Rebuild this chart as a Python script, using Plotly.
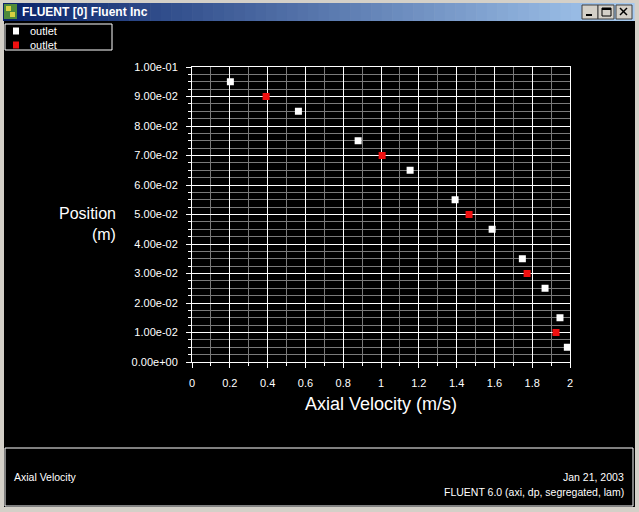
import plotly.graph_objects as go

# data
white_velocity = [0.203, 0.563, 0.879, 1.154, 1.392, 1.588, 1.748, 1.868, 1.947, 1.986]
white_position = [0.095, 0.085, 0.075, 0.065, 0.055, 0.045, 0.035, 0.025, 0.015, 0.005]
red_velocity = [0.392, 1.006, 1.466, 1.773, 1.926]
red_position = [0.09, 0.07, 0.05, 0.03, 0.01]

x_tick_vals = [0, 0.2, 0.4, 0.6, 0.8, 1.0, 1.2, 1.4, 1.6, 1.8, 2.0]
x_tick_text = ['0', '0.2', '0.4', '0.6', '0.8', '1', '1.2', '1.4', '1.6', '1.8', '2']
y_tick_vals = [0, 0.01, 0.02, 0.03, 0.04, 0.05, 0.06, 0.07, 0.08, 0.09, 0.1]
y_tick_text = ['0.00e+00', '1.00e-02', '2.00e-02', '3.00e-02', '4.00e-02', '5.00e-02',
               '6.00e-02', '7.00e-02', '8.00e-02', '9.00e-02', '1.00e-01']

legend_names = ['outlet', 'outlet']
window_title = 'FLUENT [0] Fluent Inc'
footer_left = 'Axial Velocity'
footer_date = 'Jan 21, 2003'
footer_version = 'FLUENT 6.0 (axi, dp, segregated, lam)'

W, H = 639, 512
FONT = 'Liberation Sans'
RED = '#F01010'


def px(x):
    return x / W


def py(y):
    return 1 - y / H


def rect(x0, y0, x1, y1, fill=None, line=None, lw=1, layer='below'):
    return dict(type='rect', xref='paper', yref='paper',
                x0=px(x0), x1=px(x1), y0=py(y0), y1=py(y1),
                fillcolor=fill if fill else 'rgba(0,0,0,0)',
                line=dict(color=line if line else 'rgba(0,0,0,0)', width=lw if line else 0),
                layer=layer)


def seg(x0, y0, x1, y1, color='black', lw=1):
    return dict(type='line', xref='paper', yref='paper',
                x0=px(x0), x1=px(x1), y0=py(y0), y1=py(y1),
                line=dict(color=color, width=lw), layer='above')


fig = go.Figure()

fig.add_trace(go.Scatter(x=white_velocity, y=white_position, mode='markers',
                         name=legend_names[0],
                         marker=dict(symbol='square', size=7, color='white', line=dict(width=0))))
fig.add_trace(go.Scatter(x=red_velocity, y=red_position, mode='markers',
                         name=legend_names[1],
                         marker=dict(symbol='square', size=7, color=RED, line=dict(width=0))))

shapes = []
# window frame
shapes.append(rect(4, 21, 635, 507, fill='black'))
# title bar gradient
n = 60
c0, c1 = (10, 36, 106), (166, 202, 240)
for i in range(n):
    t = i / (n - 1)
    col = 'rgb(%d,%d,%d)' % tuple(int(a + (b - a) * t) for a, b in zip(c0, c1))
    x0 = 3 + (634 - 3) * i / n
    x1 = 3 + (634 - 3) * (i + 1) / n + 0.6
    shapes.append(rect(x0, 3, x1, 21, fill=col))
# icon
shapes.append(rect(4, 4, 17, 19, fill='#4f8a3a'))
shapes.append(rect(6, 6, 11, 11, fill='#d8d040'))
shapes.append(rect(10, 12, 15, 17, fill='#d8d040'))
# title buttons
for bx in (582, 598, 616):
    shapes.append(rect(bx, 5, bx + 16, 19, fill='#D4D0C8', line='#404040', lw=1, layer='above'))
shapes.append(seg(586, 15, 592, 15, lw=2))
shapes.append(rect(602, 8, 611, 16, line='black', lw=1, layer='above'))
shapes.append(seg(602, 9, 611, 9, lw=2))
shapes.append(seg(620, 8, 627, 15, lw=1.5))
shapes.append(seg(620, 15, 627, 8, lw=1.5))
# legend box and markers
shapes.append(rect(5, 24, 112, 50, line='white', lw=1, layer='above'))
shapes.append(rect(13, 27.5, 19, 34.5, fill='white', layer='above'))
shapes.append(rect(13, 41.5, 19, 48.5, fill=RED, layer='above'))
# footer box
shapes.append(rect(5, 448, 633, 506, line='white', lw=1, layer='above'))

annotations = [
    dict(text='<b>' + window_title + '</b>', x=px(20), y=py(12), xanchor='left', yanchor='middle',
         font=dict(family=FONT, size=12, color='white')),
    dict(text='<br>'.join(legend_names), x=px(28), y=py(38), xanchor='left', yanchor='middle',
         align='left', font=dict(family=FONT, size=11, color='white')),
    dict(text='Axial Velocity (m/s)', x=px(381), y=py(404), xanchor='center', yanchor='middle',
         font=dict(family=FONT, size=18, color='white')),
    dict(text='Position<br>(m)', x=px(118), y=py(223.5), xanchor='right', yanchor='middle',
         align='right', font=dict(family=FONT, size=16, color='white')),
    dict(text=footer_left, x=px(12), y=py(477), xanchor='left', yanchor='middle',
         font=dict(family=FONT, size=10.5, color='white')),
    dict(text=footer_date, x=px(626), y=py(477), xanchor='right', yanchor='middle',
         font=dict(family=FONT, size=10.5, color='white')),
    dict(text=footer_version, x=px(626), y=py(492), xanchor='right', yanchor='middle',
         font=dict(family=FONT, size=10.5, color='white')),
]
for a in annotations:
    a.update(xref='paper', yref='paper', showarrow=False)

fig.update_layout(
    template='none',
    width=W, height=H,
    margin=dict(l=0, r=0, t=0, b=0),
    paper_bgcolor='#D4D0C8',
    plot_bgcolor='black',
    showlegend=False,
    shapes=shapes,
    annotations=annotations,
    font=dict(family=FONT, size=11, color='white'),
)

fig.update_xaxes(domain=[px(192), px(570)], range=[0, 2], automargin=False,
                 tickmode='array', tickvals=x_tick_vals, ticktext=x_tick_text,
                 ticks='outside', ticklen=5, tickcolor='white', ticklabelstandoff=6,
                 showline=True, linecolor='white', linewidth=1, mirror=True,
                 showgrid=True, gridcolor='white', gridwidth=1, zeroline=False,
                 tickfont=dict(family=FONT, size=11, color='white'),
                 minor=dict(dtick=0.1, tick0=0, ticks='outside', ticklen=3, tickcolor='white',
                            showgrid=True, gridcolor='#7a7a7a', gridwidth=1))
fig.update_yaxes(domain=[py(362), py(67)], range=[0, 0.1], automargin=False,
                 tickmode='array', tickvals=y_tick_vals, ticktext=y_tick_text,
                 ticks='outside', ticklen=5, tickcolor='white', ticklabelstandoff=6,
                 showline=True, linecolor='white', linewidth=1, mirror=True,
                 showgrid=True, gridcolor='white', gridwidth=1, zeroline=False,
                 tickfont=dict(family=FONT, size=11, color='white'),
                 minor=dict(dtick=0.0025, tick0=0, ticks='outside', ticklen=3, tickcolor='white',
                            showgrid=True, gridcolor='#7a7a7a', gridwidth=1))

# the page's default body margin would shift the figure by 8px
fig.write_html("out.html", config={'displayModeBar': False},
               post_script="document.body.style.margin='0';")
